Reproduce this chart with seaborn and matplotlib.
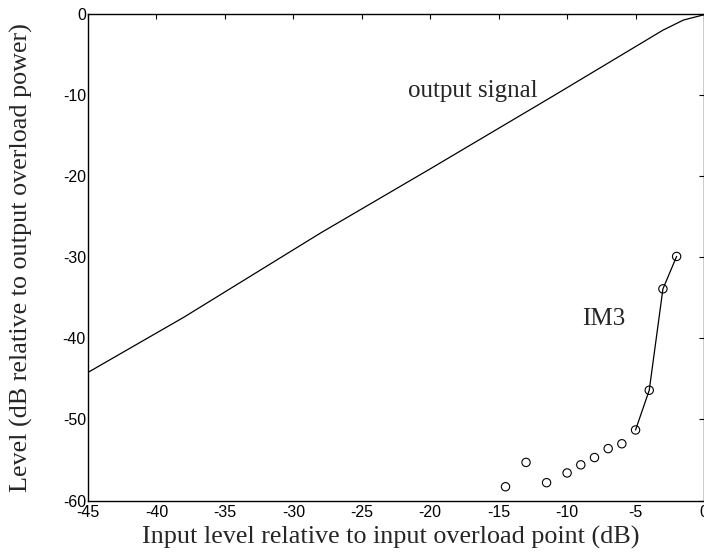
import matplotlib
matplotlib.use("Agg")
import matplotlib.pyplot as plt
import pandas as pd
import seaborn as sns

# Output signal level vs. input drive (dB)
out_in = [-45, -38, -28, -20, -11, -3, -1.5, 0]
out_lvl = [-44.2, -37.4, -27.0, -19.1, -10.1, -2.0, -0.75, -0.1]

# Third-order intermodulation product (IM3)
im3_in = [-14.5, -13, -11.5, -10, -9, -8, -7, -6, -5, -4, -3, -2]
im3_lvl = [-58.3, -55.3, -57.8, -56.6, -55.6, -54.7, -53.6, -53.0, -51.3, -46.4, -33.9, -29.9]
im3_line_from = -5  # IM3 points joined by a line from this input level up

x_ticks = [-45, -40, -35, -30, -25, -20, -15, -10, -5, 0]
y_ticks = [-60, -50, -40, -30, -20, -10, 0]

sns.set_style("white")
plt.rcParams["axes.unicode_minus"] = False
plt.rcParams["font.family"] = ["Liberation Serif", "DejaVu Serif"]

out_df = pd.DataFrame({"input": out_in, "level": out_lvl})
im3_df = pd.DataFrame({"input": im3_in, "level": im3_lvl})
im3_joined = im3_df[im3_df["input"] >= im3_line_from]

fig = plt.figure(figsize=(7.04, 5.58), dpi=100)
ax = fig.add_axes([0.125, 0.103, 0.875, 0.872])

sns.lineplot(data=out_df, x="input", y="level", ax=ax, color="black",
             linewidth=0.9, sort=False, estimator=None)
sns.lineplot(data=im3_joined, x="input", y="level", ax=ax, color="black",
             linewidth=0.9, sort=False, estimator=None)
sns.scatterplot(data=im3_df, x="input", y="level", ax=ax, marker="o",
                s=36, facecolor="none", edgecolor="black", linewidth=0.8,
                zorder=3)

ax.set_xlim(-45, 0)
ax.set_ylim(-60, 0)
ax.set_xticks(x_ticks)
ax.set_yticks(y_ticks)
ax.set_xticklabels([str(v) for v in x_ticks], family="Liberation Sans", fontsize=11.5)
ax.set_yticklabels([str(v) for v in y_ticks], family="Liberation Sans", fontsize=11.5)
ax.tick_params(axis="both", direction="in", length=3.8, width=0.8,
               top=True, right=True, colors="black")
ax.tick_params(axis="x", pad=3.5)
ax.tick_params(axis="y", pad=1.5)

for sp in ax.spines.values():
    sp.set_visible(True)
    sp.set_color("black")
    sp.set_linewidth(1.0)

ax.set_xlabel("Input level relative to input overload point (dB)", fontsize=18.8)
ax.set_ylabel("Level (dB relative to output overload power)", fontsize=18.8)
ax.xaxis.set_label_coords(0.492, -0.052)
ax.yaxis.set_label_coords(-0.089, 0.5)

ax.text(-16.86, -10.27, "output signal", fontsize=18, ha="center", va="baseline")
ax.text(-7.3, -38.4, "IM3", fontsize=18, ha="center", va="baseline")

fig.savefig("out.png", dpi=100, facecolor="white")
